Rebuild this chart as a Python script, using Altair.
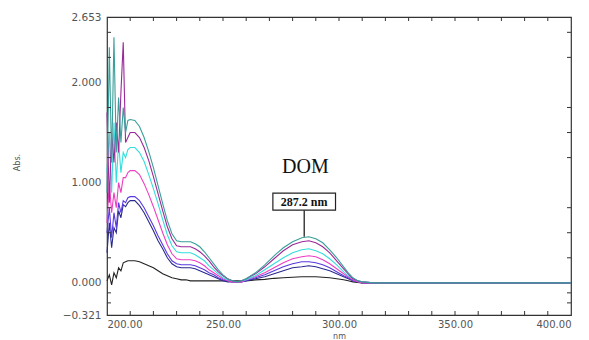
import altair as alt
import pandas as pd

wavelength = [200, 201, 202, 203, 204, 205, 206, 207, 208, 209, 210, 212, 214, 216, 218, 220,
              222, 224, 226, 228, 230, 232, 234, 236, 238, 240, 242, 244, 246, 248, 250, 252,
              254, 256, 258, 260, 264, 268, 272, 276, 280, 284, 287, 290, 293, 296, 299, 302,
              304, 306, 308, 310, 315, 320, 340, 360, 380, 400]

teal = [0.90, 2.35, 1.20, 2.45, 1.30, 1.85, 1.40, 1.75, 1.50, 1.62, 1.63, 1.62, 1.56, 1.45, 1.31, 1.15,
        0.97, 0.79, 0.62, 0.49, 0.42, 0.41, 0.41, 0.41, 0.39, 0.36, 0.31, 0.25, 0.19, 0.13, 0.08, 0.04,
        0.02, 0.01, 0.02, 0.04, 0.10, 0.18, 0.27, 0.35, 0.41, 0.45, 0.46, 0.44, 0.40, 0.33, 0.25, 0.16,
        0.10, 0.05, 0.02, 0.01, 0.0, 0.0, 0.0, 0.0, 0.0, 0.0]
purple = [1.70, 0.80, 1.50, 1.20, 1.60, 1.30, 1.90, 2.40, 1.40, 1.45, 1.50, 1.50, 1.45, 1.35, 1.22, 1.06,
          0.89, 0.72, 0.56, 0.44, 0.37, 0.36, 0.36, 0.36, 0.34, 0.31, 0.27, 0.22, 0.16, 0.11, 0.07, 0.04,
          0.02, 0.01, 0.02, 0.04, 0.09, 0.16, 0.24, 0.32, 0.38, 0.41, 0.42, 0.40, 0.36, 0.30, 0.22, 0.14,
          0.09, 0.04, 0.02, 0.01, 0.0, 0.0, 0.0, 0.0, 0.0, 0.0]
cyan = [1.10, 1.50, 0.90, 1.60, 1.00, 1.40, 1.10, 1.30, 1.25, 1.33, 1.35, 1.35, 1.30, 1.21, 1.08, 0.94,
        0.79, 0.63, 0.48, 0.37, 0.31, 0.30, 0.30, 0.30, 0.28, 0.25, 0.22, 0.17, 0.13, 0.09, 0.05, 0.03,
        0.02, 0.01, 0.02, 0.03, 0.07, 0.13, 0.19, 0.25, 0.30, 0.33, 0.34, 0.32, 0.29, 0.24, 0.18, 0.11,
        0.07, 0.04, 0.02, 0.01, 0.0, 0.0, 0.0, 0.0, 0.0, 0.0]
magenta = [0.60, 1.00, 0.70, 0.90, 0.75, 1.00, 0.90, 1.05, 1.05, 1.10, 1.12, 1.12, 1.08, 0.99, 0.88, 0.76,
           0.63, 0.50, 0.38, 0.29, 0.24, 0.23, 0.23, 0.23, 0.22, 0.20, 0.17, 0.13, 0.10, 0.07, 0.04, 0.02,
           0.01, 0.01, 0.01, 0.03, 0.06, 0.10, 0.15, 0.20, 0.24, 0.26, 0.27, 0.26, 0.23, 0.19, 0.14, 0.09,
           0.06, 0.03, 0.01, 0.0, 0.0, 0.0, 0.0, 0.0, 0.0, 0.0]
violet = [0.50, 0.75, 0.45, 0.70, 0.55, 0.80, 0.70, 0.82, 0.80, 0.85, 0.86, 0.86, 0.82, 0.75, 0.66, 0.57,
          0.47, 0.38, 0.29, 0.22, 0.19, 0.18, 0.18, 0.18, 0.17, 0.15, 0.13, 0.10, 0.08, 0.05, 0.03, 0.02,
          0.01, 0.01, 0.01, 0.02, 0.05, 0.08, 0.12, 0.16, 0.19, 0.21, 0.21, 0.20, 0.18, 0.15, 0.11, 0.07,
          0.05, 0.02, 0.01, 0.0, 0.0, 0.0, 0.0, 0.0, 0.0, 0.0]
navy = [0.30, 0.60, 0.35, 0.55, 0.50, 0.72, 0.65, 0.78, 0.76, 0.80, 0.82, 0.82, 0.77, 0.70, 0.61, 0.52,
        0.42, 0.34, 0.25, 0.19, 0.16, 0.15, 0.15, 0.15, 0.14, 0.12, 0.10, 0.08, 0.06, 0.04, 0.02, 0.01,
        0.01, 0.01, 0.01, 0.02, 0.04, 0.06, 0.09, 0.12, 0.15, 0.16, 0.17, 0.16, 0.14, 0.12, 0.09, 0.06,
        0.04, 0.02, 0.01, 0.0, 0.0, 0.0, 0.0, 0.0, 0.0, 0.0]
black = [0.02, 0.08, -0.02, 0.10, 0.05, 0.15, 0.12, 0.20, 0.21, 0.22, 0.22, 0.22, 0.21, 0.19, 0.17, 0.15,
         0.12, 0.09, 0.07, 0.05, 0.04, 0.03, 0.03, 0.02, 0.02, 0.02, 0.02, 0.02, 0.02, 0.02, 0.02, 0.02,
         0.02, 0.02, 0.02, 0.02, 0.03, 0.035, 0.045, 0.05, 0.055, 0.06, 0.06, 0.06, 0.055, 0.05, 0.04, 0.03,
         0.02, 0.01, 0.005, 0.0, 0.0, 0.0, 0.0, 0.0, 0.0, 0.0]

series_names = ["black", "navy", "violet", "magenta", "cyan", "purple", "teal"]
series_values = [black, navy, violet, magenta, cyan, purple, teal]
series_colors = ["#222222", "#2a2a8e", "#5a3ae0", "#ee3fc4", "#35dede", "#9a2a9a", "#3a9f9a"]

x_labels = [200, 250, 300, 350, 400]
y_labels = [-0.321, 0.0, 1.0, 2.0, 2.653]
x_minor = list(range(210, 400, 10))
y_minor = [-0.2, -0.1, 0.25, 0.5, 0.75, 1.25, 1.5, 1.75, 2.25, 2.5]

peak_label = "287.2 nm"
peak_x = 285.0
peak_y = 0.46
box_x = [271.5, 298.5]
box_y = [0.725, 0.895]
dom_text = "DOM"
dom_pos = (285.5, 1.16)

rows = []
for name, vals in zip(series_names, series_values):
    for w, v in zip(wavelength, vals):
        rows.append({"nm": w, "abs": v, "series": name})
df = pd.DataFrame(rows)

xs = alt.Scale(domain=[200, 400], nice=False, zero=False)
ys = alt.Scale(domain=[-0.321, 2.653], nice=False, zero=False)

label_font = "DejaVu Sans"

lines = alt.Chart(df).mark_line(strokeWidth=1.1, interpolate="linear").encode(
    x=alt.X("nm:Q", scale=xs, axis=alt.Axis(
        values=x_labels, format=".2f", title="nm", tickSize=0, domain=False, grid=False,
        labelFont=label_font, labelFontSize=10, labelColor="#555", labelPadding=4,
        titleFont=label_font, titleFontSize=8, titleFontWeight="normal", titleColor="#555",
        titleY=17, titleBaseline="top")),
    y=alt.Y("abs:Q", scale=ys, axis=alt.Axis(
        values=y_labels, format=".3f", title="Abs.", tickSize=0, domain=False, grid=False,
        labelFont=label_font, labelFontSize=10.5, labelColor="#555", labelPadding=6,
        titleFont=label_font, titleFontSize=8, titleFontWeight="normal", titleColor="#555",
        titleX=-86, titleY=145)),
    color=alt.Color("series:N", scale=alt.Scale(domain=series_names, range=series_colors), legend=None),
    order=alt.Order("nm:Q"),
)

xt = pd.DataFrame({"nm": x_minor})
tick_bottom = alt.Chart(xt).mark_rule(color="#333", strokeWidth=1).encode(
    x=alt.X("nm:Q", scale=xs), y=alt.value(298), y2=alt.value(294))
tick_top = alt.Chart(xt).mark_rule(color="#333", strokeWidth=1).encode(
    x=alt.X("nm:Q", scale=xs), y=alt.value(0), y2=alt.value(4))
yt = pd.DataFrame({"abs": y_minor})
tick_left = alt.Chart(yt).mark_rule(color="#333", strokeWidth=1).encode(
    y=alt.Y("abs:Q", scale=ys), x=alt.value(0), x2=alt.value(4))
tick_right = alt.Chart(yt).mark_rule(color="#333", strokeWidth=1).encode(
    y=alt.Y("abs:Q", scale=ys), x=alt.value(464), x2=alt.value(460))

ann = pd.DataFrame({"x": [peak_x], "y": [peak_y], "y2": [box_y[0]],
                    "bx": [box_x[0]], "bx2": [box_x[1]], "by": [box_y[0]], "by2": [box_y[1]],
                    "ty": [(box_y[0] + box_y[1]) / 2], "label": [peak_label],
                    "dx": [dom_pos[0]], "dy": [dom_pos[1]], "dom": [dom_text]})
leader = alt.Chart(ann).mark_rule(color="#111", strokeWidth=1.2).encode(
    x=alt.X("x:Q", scale=xs), y=alt.Y("y:Q", scale=ys), y2="y2:Q")
box = alt.Chart(ann).mark_rect(fill="white", stroke="#222", strokeWidth=1.2).encode(
    x=alt.X("bx:Q", scale=xs), x2="bx2:Q", y=alt.Y("by:Q", scale=ys), y2="by2:Q")
box_text = alt.Chart(ann).mark_text(font="Liberation Serif", fontSize=12, fontWeight="bold",
                                    color="#111", baseline="middle", align="center").encode(
    x=alt.X("x:Q", scale=xs), y=alt.Y("ty:Q", scale=ys), text="label:N")
dom = alt.Chart(ann).mark_text(font="Liberation Serif", fontSize=20, color="#111",
                               baseline="middle", align="center").encode(
    x=alt.X("dx:Q", scale=xs), y=alt.Y("dy:Q", scale=ys), text="dom:N")

chart = alt.layer(lines, tick_bottom, tick_top, tick_left, tick_right, leader, box, box_text, dom).properties(
    width=464, height=298,
    autosize=alt.AutoSizeParams(type="none"),
    padding={"left": 99, "top": 9, "right": 10, "bottom": 28},
    background="white",
).configure_view(stroke="#333", strokeWidth=1.2)

chart.save("out.html", embed_options={"renderer": "svg", "actions": False})
